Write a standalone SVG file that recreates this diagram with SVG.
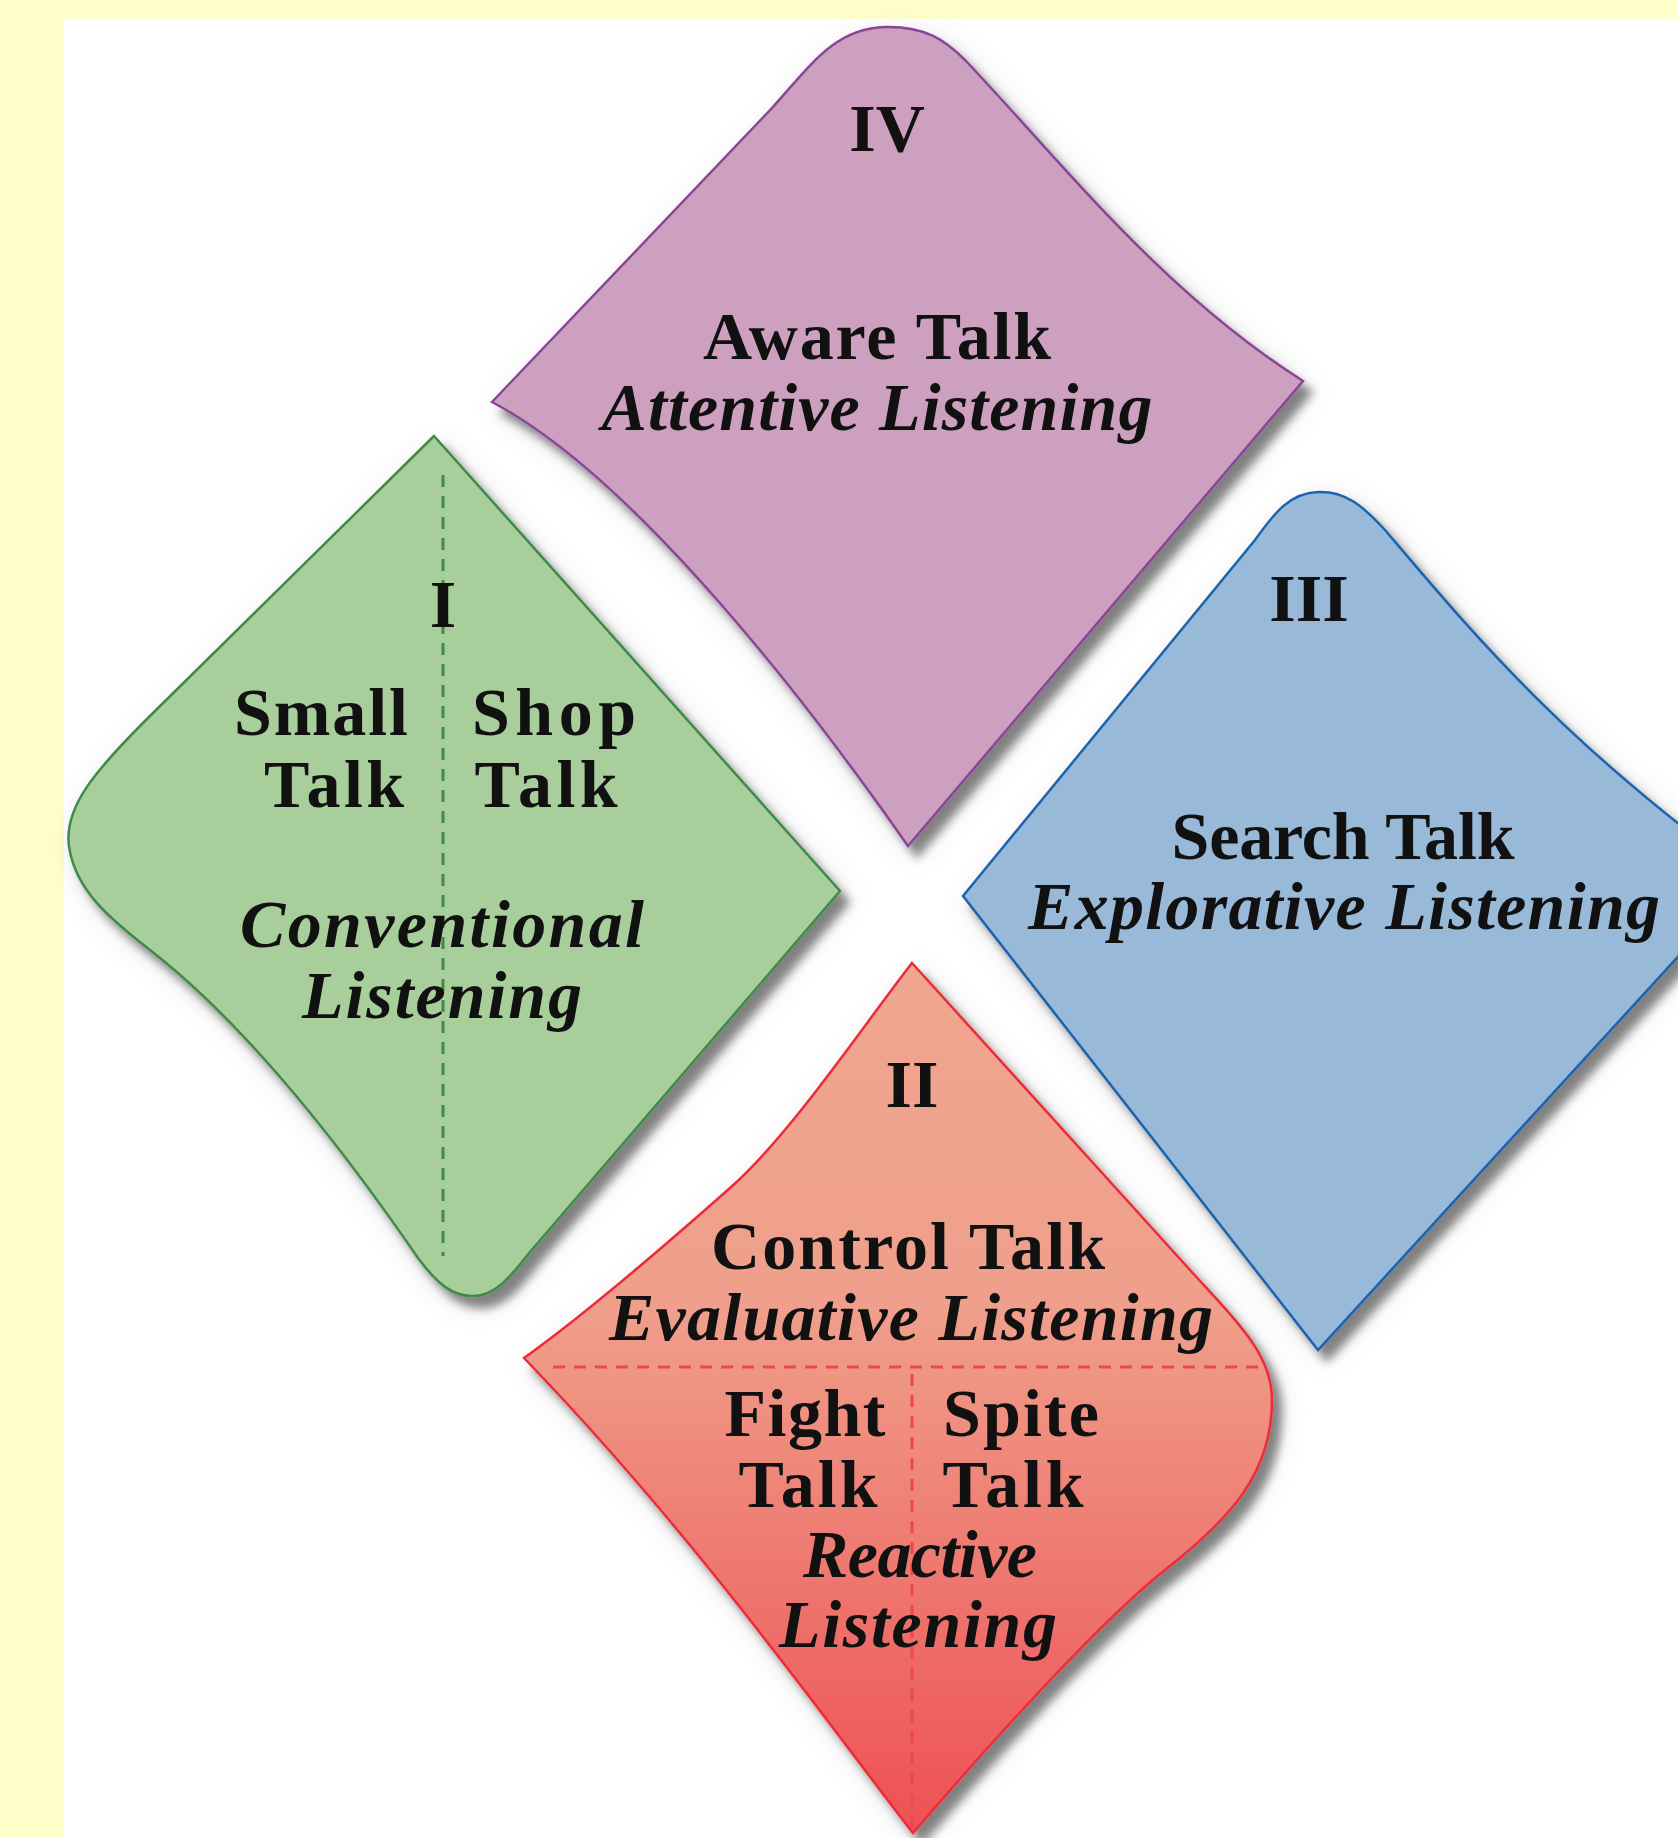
<svg xmlns="http://www.w3.org/2000/svg" width="1678" height="1838" viewBox="0 0 1678 1838">
<defs>
<style>
.t{font-family:"Liberation Serif","Times New Roman",serif;font-weight:bold;font-size:68px;fill:#111;text-anchor:middle}
.i{font-style:italic}
.shape{stroke-width:2.5}
.dash{fill:none;stroke-width:3;stroke-dasharray:12 9}
</style>
<filter id="sh" x="-10%" y="-10%" width="130%" height="130%">
<feGaussianBlur in="SourceAlpha" stdDeviation="14" result="b1"/>
<feOffset in="b1" dx="6" dy="8" result="o1"/>
<feFlood flood-color="#000" flood-opacity="0.12"/>
<feComposite in2="o1" operator="in" result="s1"/>
<feGaussianBlur in="SourceAlpha" stdDeviation="5" result="b2"/>
<feOffset in="b2" dx="9" dy="11" result="o2"/>
<feFlood flood-color="#000" flood-opacity="0.45"/>
<feComposite in2="o2" operator="in" result="s2"/>
<feMerge><feMergeNode in="s1"/><feMergeNode in="s2"/><feMergeNode in="SourceGraphic"/></feMerge>
</filter>
<linearGradient id="redg" x1="0" y1="963" x2="0" y2="1833" gradientUnits="userSpaceOnUse">
<stop offset="0" stop-color="#F0A690"/>
<stop offset="0.4" stop-color="#EF9F8B"/>
<stop offset="1" stop-color="#EE5054"/>
</linearGradient>
</defs>
<rect x="0" y="0" width="1678" height="1838" fill="#FFFFCC"/>
<rect x="64" y="19" width="1614" height="1819" fill="#FFFFFF"/>

<g id="node-IV">
<path class="shape" filter="url(#sh)" fill="#CDA0C0" stroke="#8B4596" d="M 492,402 L 772,108 C 810,66 835,28 885,27 C 925,26 945,40 965,60 C 1060,160 1160,290 1303,381 L 908,846 C 820,720 640,480 492,402 Z"/>
<text class="t" x="887" y="151">IV</text>
<text class="t" x="877" y="359" textLength="348" lengthAdjust="spacing">Aware Talk</text>
<text class="t i" x="877" y="430" textLength="551" lengthAdjust="spacing">Attentive Listening</text>
</g>

<g id="node-I">
<path class="shape" filter="url(#sh)" fill="#A8CE9B" stroke="#3F8A48" d="M 434,436 L 155,711 C 95,770 60,810 70,852 C 78,890 105,915 150,950 C 240,1020 330,1130 418,1258 C 438,1285 453,1296 472,1296 C 495,1297 512,1275 530,1252 L 840,891 Z"/>
<line class="dash" stroke="#3F8A48" x1="443" y1="475" x2="443" y2="1256"/>
<text class="t" x="443" y="627">I</text>
<text class="t" x="321" y="735" textLength="174" lengthAdjust="spacing">Small</text>
<text class="t" x="554" y="735" textLength="164" lengthAdjust="spacing">Shop</text>
<text class="t" x="334" y="807" textLength="140" lengthAdjust="spacing">Talk</text>
<text class="t" x="546" y="807" textLength="143" lengthAdjust="spacing">Talk</text>
<text class="t i" x="442" y="947" textLength="404" lengthAdjust="spacing">Conventional</text>
<text class="t i" x="442" y="1018" textLength="280" lengthAdjust="spacing">Listening</text>
</g>

<g id="node-III">
<path class="shape" filter="url(#sh)" fill="#98B9D8" stroke="#1F63AE" d="M 963,896 L 1255,540 C 1275,512 1290,493 1318,492 C 1345,491 1362,505 1385,530 C 1470,630 1560,740 1750,878 L 1318,1350 Z"/>
<text class="t" x="1309" y="621">III</text>
<text class="t" x="1343" y="859" textLength="343" lengthAdjust="spacing">Search Talk</text>
<text class="t i" x="1344" y="929" textLength="632" lengthAdjust="spacing">Explorative Listening</text>
</g>

<g id="node-II">
<path class="shape" filter="url(#sh)" fill="url(#redg)" stroke="#EE2B38" d="M 912,963 L 1190,1270 C 1240,1325 1272,1355 1272,1400 C 1272,1470 1235,1515 1165,1570 C 1110,1613 1010,1720 913,1833 C 840,1740 700,1540 524,1358 C 580,1318 660,1250 730,1188 C 790,1135 860,1030 912,963 Z"/>
<line class="dash" stroke="#EE4650" x1="553" y1="1367" x2="1265" y2="1367"/>
<line class="dash" stroke="#EE4650" x1="912" y1="1374" x2="912" y2="1826"/>
<text class="t" x="912" y="1107">II</text>
<text class="t" x="908" y="1269" textLength="394" lengthAdjust="spacing">Control Talk</text>
<text class="t i" x="911" y="1340" textLength="604" lengthAdjust="spacing">Evaluative Listening</text>
<text class="t" x="805" y="1436" textLength="161" lengthAdjust="spacing">Fight</text>
<text class="t" x="1021" y="1436" textLength="156" lengthAdjust="spacing">Spite</text>
<text class="t" x="808" y="1507" textLength="139" lengthAdjust="spacing">Talk</text>
<text class="t" x="1013" y="1507" textLength="141" lengthAdjust="spacing">Talk</text>
<text class="t i" x="920" y="1577" textLength="234" lengthAdjust="spacing">Reactive</text>
<text class="t i" x="918" y="1647" textLength="278" lengthAdjust="spacing">Listening</text>
</g>

<g id="connectors"></g>
</svg>
